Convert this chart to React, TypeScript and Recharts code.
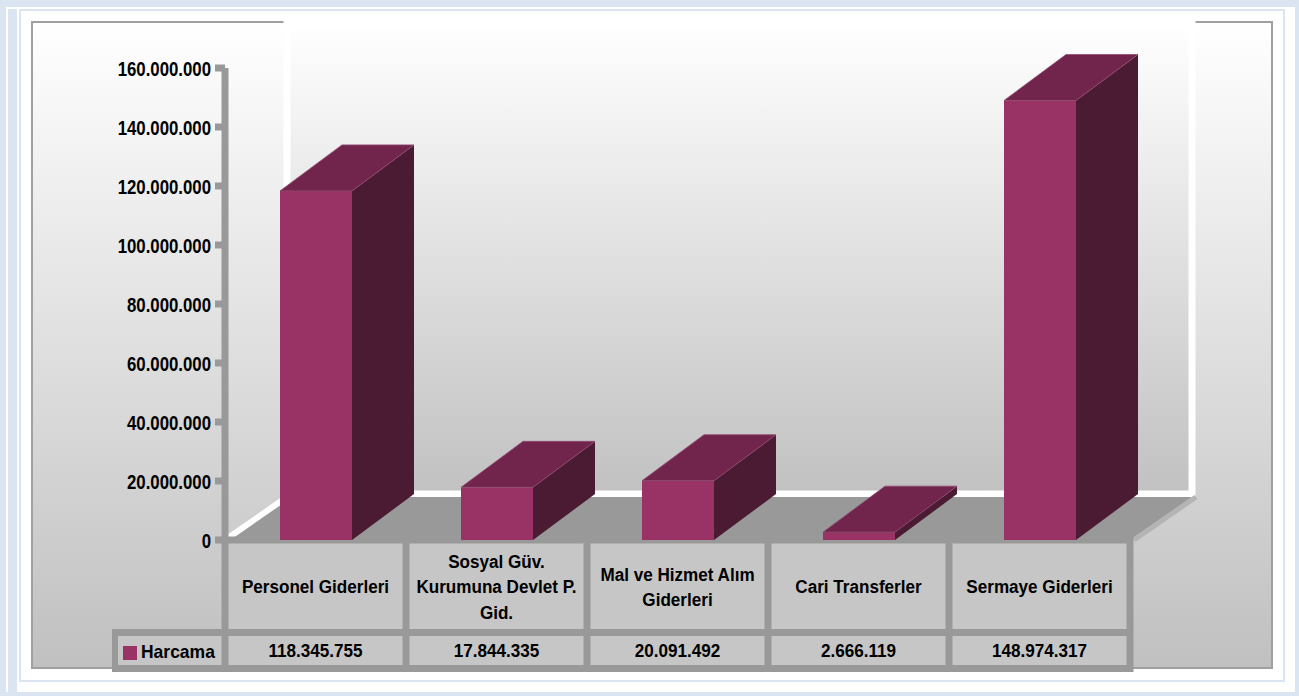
import React from 'react';
import { BarChart, Bar, XAxis, YAxis, Legend } from 'recharts';

// ---- data ----
const categories = [
  'Personel Giderleri',
  'Sosyal Güv. Kurumuna Devlet P. Gid.',
  'Mal ve Hizmet Alım Giderleri',
  'Cari Transferler',
  'Sermaye Giderleri',
];
const categoryLines = [
  ['Personel Giderleri'],
  ['Sosyal Güv.', 'Kurumuna Devlet P.', 'Gid.'],
  ['Mal ve Hizmet Alım', 'Giderleri'],
  ['Cari Transferler'],
  ['Sermaye Giderleri'],
];
const harcama = [118345755, 17844335, 20091492, 2666119, 148974317];
const yTicks = [0, 20000000, 40000000, 60000000, 80000000, 100000000, 120000000, 140000000, 160000000];
const seriesName = 'Harcama';

const data = categories.map((c, i) => ({ name: c, value: harcama[i] }));

// ---- layout ----
const W = 1299;
const H = 696;
const PL = 225;
const PR = 1130;
const PT = 68;
const PB = 540;
const DX = 62;
const DY = -46;
const YW = 200;
const XH = 130;

const FONT = '"Liberation Sans", Arial, sans-serif';
const FRONT = '#993366';
const TOP = '#72254c';
const SIDE = '#4b1a33';
const LINE = '#999999';
const CELL = '#c6c6c6';

const fmt = (v: number) => String(Math.round(v)).replace(/\B(?=(\d{3})+(?!\d))/g, '.');

const Box3D = (props: any) => {
  const { x, y, width, height } = props;
  if (width == null || height == null) return null;
  const w = width;
  const h = Math.max(height, 0);
  const top = `${x},${y} ${x + w},${y} ${x + w + DX},${y + DY} ${x + DX},${y + DY}`;
  const side = `${x + w},${y} ${x + w + DX},${y + DY} ${x + w + DX},${y + h + DY} ${x + w},${y + h}`;
  return (
    <g>
      <polygon points={side} fill={SIDE} />
      <rect x={x} y={y} width={w} height={h} fill={FRONT} />
      <polygon points={top} fill={TOP} stroke="#8f4a70" strokeWidth={0.8} strokeLinejoin="round" />
    </g>
  );
};

const YTick = (props: any) => {
  const { x, y, payload } = props;
  return (
    <text
      transform={`translate(${x},${y}) scale(0.8,1)`}
      textAnchor="end"
      dy="0.36em"
      fontSize={21}
      fontWeight="bold"
      fontFamily={FONT}
      fill="#000"
    >
      {fmt(payload.value)}
    </text>
  );
};

const XTick = (props: any) => {
  const { x, index } = props;
  const lines = categoryLines[index] || [];
  const rowCenter = (PB + 4 + 629) / 2;
  const valCenter = (636 + 665) / 2;
  const lh = 25.5;
  return (
    <g>
      {lines.map((ln, i) => (
        <text
          key={i}
          transform={`translate(${x},${rowCenter + (i - (lines.length - 1) / 2) * lh}) scale(0.9,1)`}
          textAnchor="middle"
          dy="0.36em"
          fontSize={19}
          fontWeight="bold"
          fontFamily={FONT}
          fill="#000"
        >
          {ln}
        </text>
      ))}
      <text
        transform={`translate(${x},${valCenter}) scale(0.9,1)`}
        textAnchor="middle"
        dy="0.36em"
        fontSize={19}
        fontWeight="bold"
        fontFamily={FONT}
        fill="#000"
      >
        {fmt(harcama[index])}
      </text>
    </g>
  );
};

const LegendContent = () => (
  <div style={{ position: 'relative', width: 104, height: 29 }}>
    <div style={{ position: 'absolute', left: 5, top: 10, width: 14, height: 14, background: FRONT }} />
    <div
      style={{
        position: 'absolute',
        left: 23,
        top: 3,
        fontFamily: FONT,
        fontWeight: 'bold',
        fontSize: 19,
        lineHeight: '26px',
        color: '#000',
        transform: 'scaleX(0.92)',
        transformOrigin: 'left center',
        whiteSpace: 'nowrap',
      }}
    >
      {seriesName}
    </div>
  </div>
);

const Background = () => {
  const band = (PR - PL) / categories.length;
  const bounds = categories.map((_, i) => PL + band * i).concat([PR]);
  const rowTop = PB + 3.5;
  const midTop = 629;
  const midBot = 636;
  const botTop = 665;
  const botBot = 672;
  return (
    <svg width={W} height={H} style={{ position: 'absolute', left: 0, top: 0 }}>
      <defs>
        <linearGradient id="plotBg" x1="0" y1="0" x2="0" y2="1">
          <stop offset="0" stopColor="#ffffff" />
          <stop offset="1" stopColor="#c0c0c0" />
        </linearGradient>
        <linearGradient id="wallBg" x1="0" y1="0" x2="0" y2="1">
          <stop offset="0" stopColor="#ffffff" />
          <stop offset="1" stopColor="#c1c1c1" />
        </linearGradient>
      </defs>
      <rect x={0} y={0} width={W} height={H} fill="#dbe5f1" />
      <rect x={6} y={7} width={2} height={685} fill="#ffffff" />
      <rect x={6} y={7} width={1289} height={2} fill="#ffffff" />
      <rect x={17} y={9} width={1278} height={683} fill="#ffffff" />
      <rect x={20} y={10} width={1264} height={671} fill="none" stroke="#dbe5f1" strokeWidth={2} />
      {/* plot area */}
      <rect x={32} y={22} width={1240} height={646} fill="url(#plotBg)" stroke="#a0a0a0" strokeWidth={2} />
      {/* back wall */}
      <rect
        x={PL + DX}
        y={23}
        width={PR - PL}
        height={PB + DY - 23}
        fill="url(#wallBg)"
        stroke="#ffffff"
        strokeWidth={7}
      />
      {/* floor */}
      <polygon
        points={`${PL},${PB} ${PR},${PB} ${PR + DX},${PB + DY + 3} ${PL + DX},${PB + DY + 3}`}
        fill="#999999"
      />
      <line x1={PL + 3} y1={PB - 2} x2={PL + DX} y2={PB + DY + 3} stroke="#ffffff" strokeWidth={6} />
      <line x1={PR + 4} y1={PB} x2={PR + DX + 4} y2={PB + DY + 3} stroke="#b4b4b4" strokeWidth={5} />
      {/* data table */}
      <rect x={PL - 3.5} y={PB - 3.5} width={PR - PL + 7} height={botBot - (PB - 3.5)} fill={LINE} />
      <rect x={112} y={midTop} width={PL - 112} height={botBot - midTop} fill={LINE} />
      <rect x={118} y={midBot} width={PL - 3.5 - 118} height={botTop - midBot} fill={CELL} />
      {bounds.slice(0, -1).map((b, i) => {
        const x0 = b + 3.5;
        const x1 = bounds[i + 1] - 3.5;
        return (
          <g key={i}>
            <rect x={x0} y={rowTop} width={x1 - x0} height={midTop - rowTop} fill={CELL} />
            <rect x={x0} y={midBot} width={x1 - x0} height={botTop - midBot} fill={CELL} />
          </g>
        );
      })}
    </svg>
  );
};

export default function App() {
  return (
    <div style={{ position: 'absolute', left: 0, top: 0, width: W, height: H, overflow: 'hidden' }}>
      <style>{'body{margin:0}'}</style>
      <Background />
      <div style={{ position: 'absolute', left: 0, top: 0 }}>
        <BarChart
          width={W}
          height={H}
          data={data}
          margin={{ top: PT, right: W - PR, bottom: H - PB - XH, left: PL - YW }}
          barCategoryGap={0}
        >
          <XAxis
            dataKey="name"
            height={XH}
            axisLine={false}
            tickLine={false}
            interval={0}
            tick={<XTick />}
          />
          <YAxis
            width={YW}
            domain={[0, 160000000]}
            ticks={yTicks}
            interval={0}
            axisLine={{ stroke: LINE, strokeWidth: 7 }}
            tickLine={{ stroke: LINE, strokeWidth: 7 }}
            tickSize={10}
            tickMargin={4}
            tick={<YTick />}
          />
          <Legend
            layout="horizontal"
            verticalAlign="middle"
            align="center"
            content={<LegendContent />}
            wrapperStyle={{ position: 'absolute', left: 118, top: 636, width: 104, height: 29, margin: 0 }}
          />
          <Bar
            dataKey="value"
            name={seriesName}
            fill={FRONT}
            barSize={72}
            shape={<Box3D />}
            isAnimationActive={false}
          />
        </BarChart>
      </div>
    </div>
  );
}
